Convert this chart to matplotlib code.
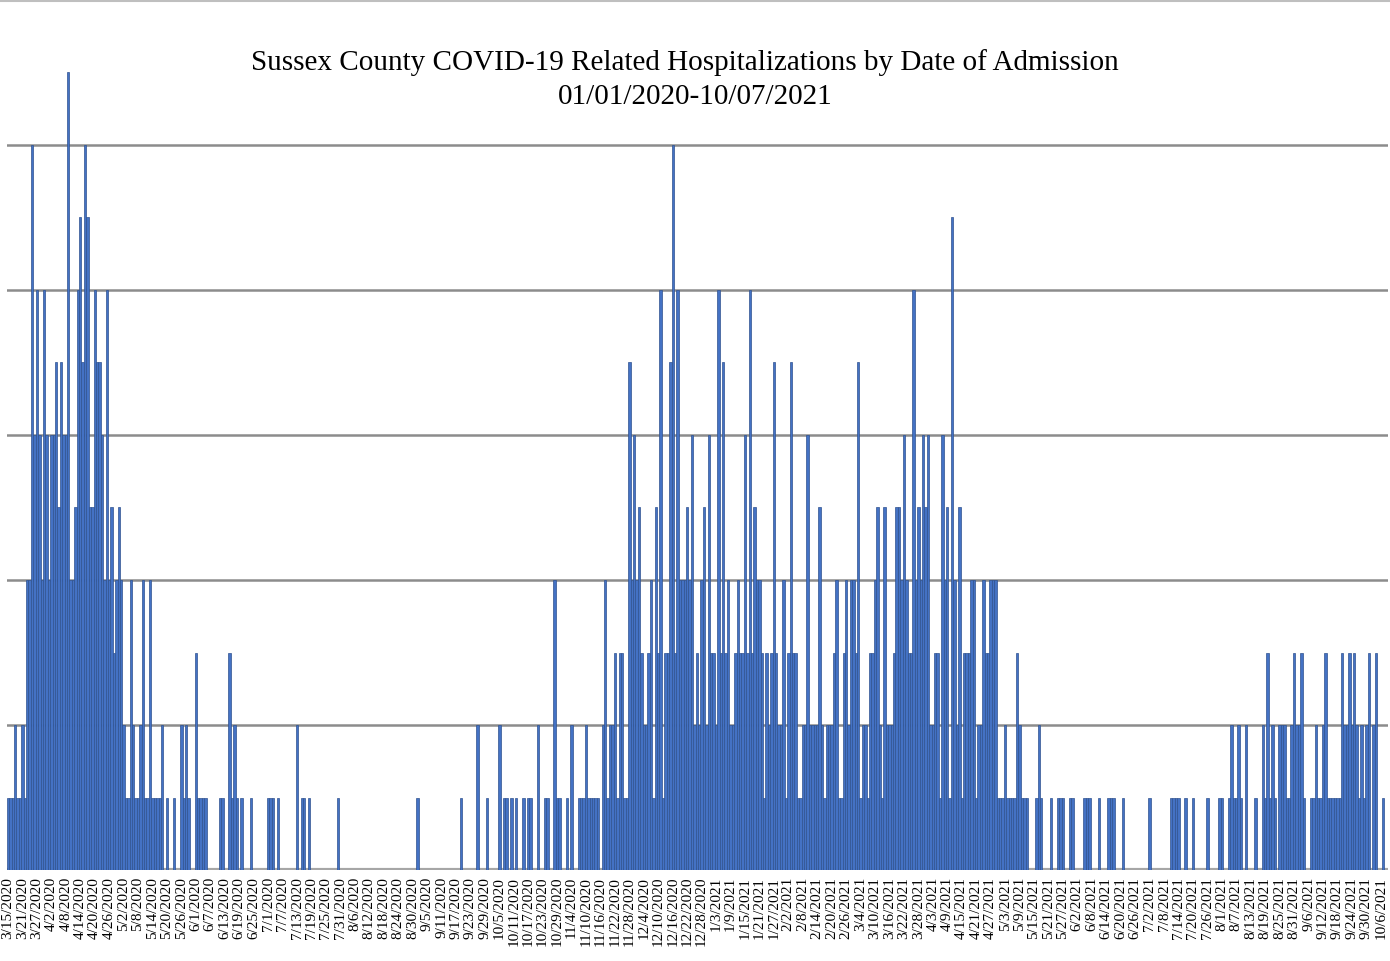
import numpy as np
import pandas as pd
import matplotlib
matplotlib.use("Agg")
import matplotlib.pyplot as plt
from matplotlib.lines import Line2D

# daily admissions, 3/15/2020 .. 10/7/2021
wave_spring_2020 = [1, 1, 1, 2, 1, 1, 2, 1, 4, 4,
                    10, 6, 8, 6, 4, 8, 6, 4, 6, 6,
                    7, 5, 7, 6, 6, 11, 4, 4, 5, 8,
                    9, 7, 10, 9, 5, 5, 8, 7, 7, 6,
                    4, 8, 4, 5, 3, 4, 5, 4, 2, 1,
                    1, 4, 2, 1, 1, 2, 4, 1, 1, 4]
summer_2020 = [1, 1, 1, 1, 2, 0, 1, 0, 0, 1,
               0, 0, 2, 1, 2, 1, 0, 0, 3, 1,
               1, 1, 1, 0, 0, 0, 0, 0, 1, 1,
               0, 0, 3, 1, 2, 1, 0, 1, 0, 0,
               0, 1, 0, 0, 0, 0, 0, 0, 1, 1,
               1, 0, 1, 0, 0, 0, 0, 0, 0, 0,
               2, 0, 1, 1, 0, 1, 0, 0, 0, 0,
               0, 0, 0, 0, 0, 0, 0, 1, 0, 0,
               0, 0, 0, 0, 0, 0, 0, 0, 0, 0,
               0, 0, 0, 0, 0, 0, 0, 0, 0, 0,
               0, 0, 0, 0, 0, 0, 0, 0, 0, 0,
               1, 0, 0, 0, 0, 0, 0, 0, 0, 0,
               0, 0, 0, 0, 0, 0, 0, 0, 1, 0,
               0, 0, 0, 0, 0, 2, 0, 0, 0, 1,
               0, 0, 0, 0, 2, 0, 1, 1, 0, 1,
               0, 1, 0, 0, 1, 0, 1, 1, 0, 0,
               2, 0, 0, 1, 1, 0, 0, 4, 1, 1,
               0, 0, 1, 0, 2, 0, 0, 1, 1, 1]
wave_winter_2020_21 = [2, 1, 1, 1, 1, 1, 0, 2, 4, 1,
                       2, 2, 3, 1, 3, 3, 1, 1, 7, 4,
                       6, 4, 5, 3, 2, 2, 3, 4, 1, 5,
                       3, 8, 1, 3, 3, 7, 10, 3, 8, 4,
                       4, 4, 5, 4, 6, 2, 3, 2, 4, 5,
                       2, 6, 3, 3, 2, 8, 3, 7, 3, 4,
                       2, 2, 3, 4, 3, 3, 6, 3, 8, 3,
                       5, 4, 4, 3, 1, 3, 2, 3, 7, 3,
                       2, 2, 4, 1, 3, 7, 3, 3, 1, 1,
                       2, 2, 6, 2, 2, 2, 2, 5, 2, 1,
                       2, 2, 2, 3, 4, 1, 1, 3, 4, 2,
                       4, 4, 3, 7, 1, 2, 2, 1, 3, 3,
                       4, 5, 2, 1, 5, 2, 2, 2, 3, 5,
                       5, 4, 6, 4, 3, 3, 8, 4, 5, 4,
                       6, 5, 6, 2, 2, 3, 3, 1, 6, 4,
                       5, 1, 9, 4, 2, 5, 1, 3, 3, 3,
                       4, 4, 1, 2, 2, 4, 3, 3, 4, 4,
                       4, 1, 1, 1, 2, 1, 1, 1, 1, 3]
summer_2021 = [2, 1, 1, 1, 0, 0, 0, 1, 2, 1,
               0, 0, 0, 1, 0, 0, 1, 1, 1, 0,
               0, 1, 1, 0, 0, 0, 0, 1, 1, 1,
               0, 0, 0, 1, 0, 0, 0, 1, 1, 1,
               0, 0, 0, 1, 0, 0, 0, 0, 0, 0,
               0, 0, 0, 0, 1, 0, 0, 0, 0, 0,
               0, 0, 0, 1, 1, 1, 1, 0, 0, 1,
               0, 0, 1, 0, 0, 0, 0, 0, 1, 0,
               0, 0, 0, 1, 1, 0, 0]
wave_fall_2021 = [1, 2, 1,
                  1, 2, 1, 0, 2, 0, 0, 0, 1, 0,
                  0, 2, 1, 3, 1, 2, 1, 0, 2, 2,
                  2, 1, 1, 2, 3, 2, 2, 3, 1, 0,
                  0, 1, 1, 2, 1, 1, 2, 3, 1, 1,
                  1, 1, 1, 1, 3, 2, 2, 3, 2, 3,
                  2, 1, 2, 1, 2, 3, 0, 2, 3, 0,
                  0, 1]

counts = np.array(wave_spring_2020 + summer_2020 + wave_winter_2020_21
                  + summer_2021 + wave_fall_2021)
dates = pd.date_range("2020-03-15", periods=len(counts), freq="D")
tick_idx = np.arange(0, len(counts), 6)
tick_labels = [f"{d.month}/{d.day}/{d.year}" for d in dates[tick_idx]]

title_line1 = "Sussex County COVID-19 Related Hospitalizations by Date of Admission"
title_line2 = "01/01/2020-10/07/2021"

plt.rcParams["font.family"] = ["Liberation Serif", "DejaVu Serif"]

fig = plt.figure(figsize=(13.9, 9.61), dpi=100)
ax = fig.add_axes([6.8 / 1390, 91 / 961, (1388 - 6.8) / 1390, 833.75 / 961])

x = np.arange(len(counts))
ax.bar(x, counts, width=1.0, color="#4472C4", edgecolor="#2F528F",
       linewidth=0.5, zorder=3)

for g in [2, 4, 6, 8, 10]:
    ax.axhline(g, color="#8C8C8C", linewidth=1.8, zorder=1)
ax.axhline(0, color="#A6A6A6", linewidth=3, zorder=2)

ax.set_xlim(-0.5, len(counts) + 1)
ax.set_ylim(0, 11.5)
ax.set_yticks([])
ax.set_xticks(tick_idx)
ax.set_xticklabels(tick_labels, rotation=90, fontsize=11)
ax.tick_params(axis="x", length=0, pad=5)
for s in ax.spines.values():
    s.set_visible(False)

fig.text(685 / 1390, 1 - 63 / 961, title_line1, ha="center", va="center",
         fontsize=21)
fig.text(695 / 1390, 1 - 97 / 961, title_line2, ha="center", va="center",
         fontsize=21)

# thin chart-area border along the top edge
fig.add_artist(Line2D([0, 1], [0.999, 0.999], transform=fig.transFigure,
                      color="#BFBFBF", linewidth=1.5))

fig.savefig("out.png", dpi=100)
